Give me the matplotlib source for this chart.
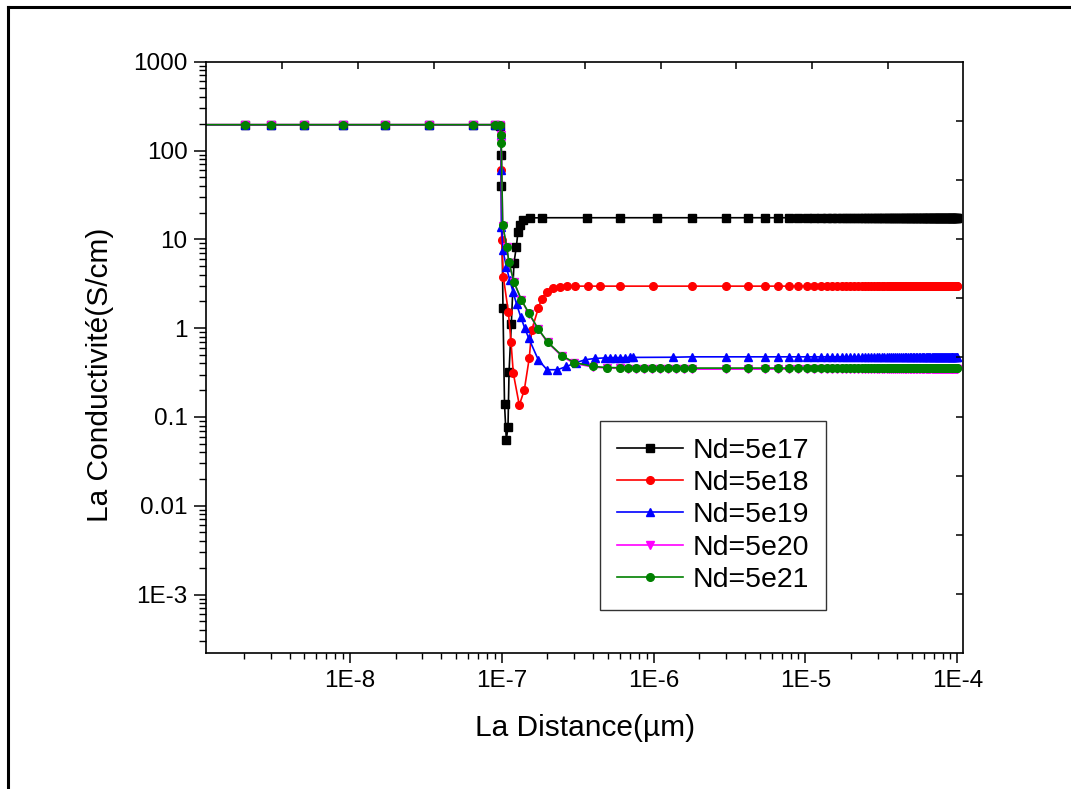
import matplotlib
matplotlib.use("Agg")
import matplotlib.pyplot as plt
from matplotlib.lines import Line2D

plt.rcParams['font.family'] = ['Liberation Sans', 'DejaVu Sans']

# distance grid (um) on the flat part, shared by all curves
flat_x = [1.0e-9, 2.03e-9, 3.0e-9, 5.0e-9, 9.0e-9, 1.7e-8, 3.3e-8, 6.5e-8, 9.0e-8]
flat_level = 195.0

# distance grid (um) on the far plateau, shared by all curves
tail_x = [1.8e-6, 3.0e-6, 4.2e-6, 5.4e-6, 6.6e-6, 7.8e-6, 9.0e-6, 1.02e-5, 1.14e-5,
          1.26e-5, 1.38e-5, 1.50e-5, 1.62e-5, 1.74e-5, 1.86e-5, 1.98e-5, 2.10e-5,
          2.22e-5, 2.34e-5, 2.46e-5, 2.58e-5, 2.70e-5, 2.82e-5, 2.94e-5, 3.06e-5,
          3.18e-5, 3.30e-5, 3.42e-5, 3.54e-5, 3.66e-5, 3.78e-5, 3.90e-5, 4.02e-5,
          4.14e-5, 4.26e-5, 4.38e-5, 4.50e-5, 4.62e-5, 4.74e-5, 4.86e-5, 4.98e-5,
          5.10e-5, 5.22e-5, 5.34e-5, 5.46e-5, 5.58e-5, 5.70e-5, 5.82e-5, 5.94e-5,
          6.06e-5, 6.18e-5, 6.30e-5, 6.42e-5, 6.54e-5, 6.66e-5, 6.78e-5, 6.90e-5,
          7.02e-5, 7.14e-5, 7.26e-5, 7.38e-5, 7.50e-5, 7.62e-5, 7.74e-5, 7.86e-5,
          7.98e-5, 8.10e-5, 8.22e-5, 8.34e-5, 8.46e-5, 8.58e-5, 8.70e-5, 8.82e-5,
          8.94e-5, 9.06e-5, 9.18e-5, 9.30e-5, 9.42e-5, 9.54e-5, 9.66e-5, 9.78e-5,
          9.90e-5, 1.002e-4]

# Nd=5e17
x_5e17 = [9.73e-8, 9.92e-8, 9.95e-8, 1.018e-7, 1.042e-7, 1.071e-7, 1.099e-7, 1.116e-7,
          1.155e-7, 1.203e-7, 1.247e-7, 1.279e-7, 1.318e-7, 1.380e-7, 1.535e-7,
          1.833e-7, 3.62e-7, 6.01e-7, 1.047e-6]
y_5e17 = [190, 89, 40, 1.7, 0.14, 0.055, 0.078, 0.32,
          1.1, 5.4, 8.3, 12.2, 14.5, 16.5, 17.4,
          17.5, 17.5, 17.5, 17.5]
tail_5e17 = 17.5

# Nd=5e18
x_5e18 = [9.68e-8, 9.88e-8, 9.92e-8, 9.98e-8, 1.023e-7, 1.104e-7, 1.150e-7, 1.191e-7,
          1.304e-7, 1.406e-7, 1.517e-7, 1.574e-7, 1.739e-7, 1.831e-7, 1.976e-7,
          2.184e-7, 2.416e-7, 2.676e-7, 3.034e-7, 3.713e-7, 4.434e-7, 6.008e-7, 9.95e-7]
y_5e18 = [192, 150, 60, 9.8, 3.8, 1.53, 0.7, 0.31,
          0.136, 0.2, 0.46, 0.95, 1.67, 2.15, 2.57,
          2.85, 2.92, 2.95, 2.97, 2.97, 2.97, 2.97, 2.97]
tail_5e18 = 2.97

# Nd=5e19
x_5e19 = [9.68e-8, 9.88e-8, 9.92e-8, 9.95e-8, 1.018e-7, 1.070e-7, 1.127e-7, 1.185e-7,
          1.253e-7, 1.332e-7, 1.416e-7, 1.504e-7, 1.739e-7, 1.985e-7, 2.327e-7,
          2.668e-7, 3.104e-7, 3.532e-7, 4.093e-7, 4.763e-7, 5.162e-7, 5.568e-7,
          6.008e-7, 6.48e-7, 6.99e-7, 7.35e-7, 1.335e-6]
y_5e19 = [192, 150, 60, 13.9, 7.6, 4.9, 3.5, 2.57,
          1.85, 1.34, 1.0, 0.77, 0.44, 0.34, 0.34,
          0.37, 0.41, 0.44, 0.455, 0.462, 0.465, 0.465,
          0.465, 0.465, 0.467, 0.468, 0.47]
tail_5e19 = 0.475

# Nd=5e20
x_5e20 = [9.68e-8, 9.83e-8, 9.92e-8, 1.014e-7, 1.077e-7, 1.115e-7, 1.203e-7, 1.348e-7,
          1.510e-7, 1.737e-7, 2.003e-7, 2.49e-7, 3.003e-7, 3.99e-7, 4.91e-7,
          6.008e-7, 6.78e-7, 7.66e-7, 8.65e-7, 9.76e-7, 1.102e-6, 1.244e-6,
          1.405e-6, 1.586e-6]
y_5e20 = [194, 149, 120, 14.2, 8.2, 5.4, 3.3, 2.05,
          1.45, 0.97, 0.69, 0.48, 0.40, 0.365, 0.355,
          0.352, 0.35, 0.35, 0.35, 0.35, 0.35, 0.35,
          0.35, 0.35]
tail_5e20 = 0.345

# Nd=5e21
x_5e21 = [9.68e-8, 9.83e-8, 9.92e-8, 1.014e-7, 1.077e-7, 1.115e-7, 1.203e-7, 1.348e-7,
          1.510e-7, 1.737e-7, 2.003e-7, 2.49e-7, 3.003e-7, 3.99e-7, 4.91e-7,
          6.008e-7, 6.78e-7, 7.66e-7, 8.65e-7, 9.76e-7, 1.102e-6, 1.244e-6,
          1.405e-6, 1.586e-6]
y_5e21 = [194, 149, 120, 14.4, 8.3, 5.5, 3.3, 2.07,
          1.47, 0.98, 0.70, 0.49, 0.41, 0.37, 0.36,
          0.358, 0.357, 0.357, 0.356, 0.356, 0.356, 0.355,
          0.355, 0.355]
tail_5e21 = 0.355

series = [
    ("Nd=5e17", x_5e17, y_5e17, tail_5e17, "black", "s"),
    ("Nd=5e18", x_5e18, y_5e18, tail_5e18, "red", "o"),
    ("Nd=5e19", x_5e19, y_5e19, tail_5e19, "blue", "^"),
    ("Nd=5e20", x_5e20, y_5e20, tail_5e20, "magenta", "v"),
    ("Nd=5e21", x_5e21, y_5e21, tail_5e21, "green", "o"),
]

y_ticks = [1e-3, 1e-2, 1e-1, 1, 10, 100, 1000]
y_tick_labels = ["1E-3", "0.01", "0.1", "1", "10", "100", "1000"]
x_ticks = [1e-8, 1e-7, 1e-6, 1e-5, 1e-4]
x_tick_labels = ["1E-8", "1E-7", "1E-6", "1E-5", "1E-4"]

fig = plt.figure(figsize=(10.71, 7.89), dpi=100)
ax = fig.add_axes([0.1928, 0.172, 0.7066, 0.7498])

for name, xs, ys, tail, color, marker in series:
    x_all = flat_x + xs + tail_x
    y_all = [flat_level] * len(flat_x) + ys + [tail] * len(tail_x)
    ax.plot(x_all, y_all, color=color, marker=marker, markersize=5.5,
            linewidth=1.2, label=name)

ax.set_xscale("log")
ax.set_yscale("log")
ax.set_xlim(1.135e-9, 1.095e-4)
ax.set_ylim(2.18e-4, 1000)

ax.set_yticks(y_ticks)
ax.set_yticklabels(y_tick_labels)
ax.set_xticks(x_ticks)
ax.set_xticklabels(x_tick_labels)

ax.tick_params(axis="y", which="major", direction="out", length=8.5, width=1.1,
               labelsize=17.5, pad=5)
ax.tick_params(axis="y", which="minor", direction="out", length=5, width=1.0)
ax.tick_params(axis="x", which="major", direction="out", length=7, width=1.1,
               labelsize=17.5, pad=5)
ax.tick_params(axis="x", which="minor", direction="out", length=4, width=1.0)
for s in ax.spines.values():
    s.set_linewidth(1.2)

ax.set_xlabel("La Distance(µm)", fontsize=21.5)
ax.set_ylabel("La Conductivité(S/cm)", fontsize=21.5)
ax.xaxis.set_label_coords(0.5, -0.102)
ax.yaxis.set_label_coords(-0.1225, 0.47)

leg = ax.legend(loc="upper left", bbox_to_anchor=(0.52, 0.393), borderaxespad=0,
                fontsize=20.5, handlelength=2.3, handletextpad=0.35, labelspacing=0.22,
                borderpad=0.6, fancybox=False, framealpha=1)
leg.get_frame().set_edgecolor("#333333")
leg.get_frame().set_linewidth(1.0)

# top and right axes: ten equal divisions, inward ticks
frame_ticks = [0.1, 0.2, 0.3, 0.4, 0.5, 0.6, 0.7, 0.8, 0.9]
ax2 = fig.add_axes(ax.get_position(), frameon=False)
ax2.set_xlim(0, 1)
ax2.set_ylim(0, 1)
ax2.xaxis.tick_top()
ax2.yaxis.tick_right()
ax2.set_xticks(frame_ticks)
ax2.set_yticks(frame_ticks)
ax2.tick_params(direction="in", length=5, width=1.1, labeltop=False, labelright=False)
ax2.patch.set_visible(False)

# outer frame (top and left edges)
fig.add_artist(Line2D([0.0075, 0.0075], [0.0, 0.9911], transform=fig.transFigure,
                      color="black", linewidth=2.2))
fig.add_artist(Line2D([0.0075, 1.0], [0.9911, 0.9911], transform=fig.transFigure,
                      color="black", linewidth=2.2))

plt.savefig("out.png", dpi=100)
